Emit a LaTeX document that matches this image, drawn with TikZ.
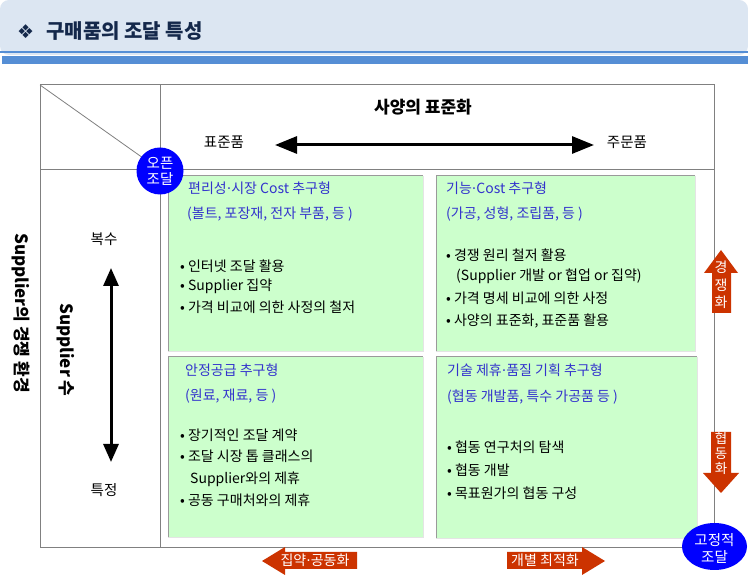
\documentclass[tikz,border=0pt]{standalone}
\usepackage{fontspec}
\setmainfont{Noto Sans CJK KR}
\newfontfamily\dejavu{DejaVu Sans}
\newcommand\kdot{{\dejavu ·}}
\usetikzlibrary{arrows.meta,shapes.geometric}
\definecolor{bannerfill}{HTML}{DCE6F2}
\definecolor{bannerline}{HTML}{558ED5}
\definecolor{titlecol}{HTML}{14284B}
\definecolor{boxgreen}{HTML}{CCFFCC}
\definecolor{boxedge}{HTML}{9A9A9A}
\definecolor{boxlight}{HTML}{E4E4E4}
\definecolor{bluetext}{HTML}{3333CC}
\definecolor{circblue}{HTML}{0000FF}
\definecolor{redarrow}{HTML}{CC3300}
\definecolor{framecol}{HTML}{808080}
\tikzset{
  greenbox/.style={fill=boxgreen, draw=none, anchor=north west, inner sep=0pt},
  darkedge/.style={draw=boxedge, line width=1pt},
  lightedge/.style={draw=boxlight, line width=1pt},
  boxtitle/.style={anchor=west, inner sep=0pt, text=bluetext, font=\fontsize{14}{16}\selectfont},
  bodytext/.style={anchor=west, inner sep=0pt, text=black, font=\fontsize{14}{16}\selectfont},
  labeltext/.style={inner sep=0pt, text=black, font=\fontsize{14.5}{16}\selectfont},
  boldlabel/.style={inner sep=0pt, text=black, font=\bfseries\fontsize{17}{20}\selectfont},
  framelines/.style={draw=framecol, line width=1pt},
  bigarrow/.style={line width=3pt, {Triangle[length=22pt,width=17pt]}-{Triangle[length=22pt,width=17pt]}},
  vertarrow/.style={line width=3pt, {Triangle[length=18pt,width=15pt]}-{Triangle[length=18pt,width=15pt]}},
  redshape/.style={fill=redarrow},
  whitetext/.style={inner sep=0pt, text=white, font=\fontsize{14}{16}\selectfont, align=center},
  bluecirc/.style={fill=circblue, draw=none, text=white, font=\fontsize{14.5}{16}\selectfont, align=center, inner sep=0pt}
}
\begin{document}
\begin{tikzpicture}[x=1pt,y=-1pt]
\useasboundingbox (0,0) rectangle (748,577);
\fill[white] (0,0) rectangle (748,577);
% banner
\fill[bannerfill, rounded corners=9pt] (0,0) rectangle (748,55);
\fill[bannerline] (0,51.5) rectangle (748,53.5);
\fill[bannerline] (2,56) rectangle (748,64.5);
\node[anchor=west, inner sep=0pt, text=titlecol, font=\dejavu\fontsize{19}{22}\selectfont] (diam) at (17,32) {❖};
\node[anchor=west, inner sep=0pt, text=titlecol, font=\bfseries\fontsize{20}{24}\selectfont] (title) at (46,31) {구매품의 조달 특성};
% frame
\coordinate (tl) at (40,85);
\coordinate (br) at (714,548);
\coordinate (cross) at (160,170);
\draw[framelines] (tl) rectangle (br);
\draw[framelines] (160,85) -- (160,548);
\draw[framelines] (40,170) -- (714,170);
\draw[draw=framecol, line width=0.8pt] (tl) -- (cross);
% header
\node[boldlabel] (spec) at (423,107) {사양의 표준화};
\node[labeltext] (std) at (224,142) {표준품};
\node[labeltext] (cust) at (627,142) {주문품};
\coordinate (hl) at (275,145);
\coordinate (hr) at (594,145);
\draw[bigarrow] (hl) -- (hr);
% left column
\node[boldlabel, rotate=-90] (compenv) at (21,313) {Supplier의 경쟁 환경};
\node[boldlabel, rotate=-90] (supnum) at (66,350) {Supplier 수};
\node[labeltext] (multi) at (104,239) {복수};
\node[labeltext] (spec2) at (104,490) {특정};
\coordinate (vt) at (111,268);
\coordinate (vb) at (111,462);
\draw[vertarrow] (vt) -- (vb);
% boxes
\node[greenbox, minimum width=255pt, minimum height=175pt] (b1) at (168,176) {};
\node[greenbox, minimum width=259pt, minimum height=175pt] (b2) at (436,176) {};
\node[greenbox, minimum width=255pt, minimum height=180pt] (b3) at (168,357) {};
\node[greenbox, minimum width=261pt, minimum height=181pt] (b4) at (436,357) {};
\foreach \b in {b1,b2,b3,b4}{
  \draw[lightedge] (\b.north east) -- (\b.south east) -- (\b.south west);
  \draw[darkedge] (\b.south west) -- (\b.north west) -- (\b.north east);
}
% box 1
\node[boxtitle] (t1) at (188,188) {편리성\kdot 시장 Cost 추구형};
\node[boxtitle] (s1) at (187,214) {(볼트, 포장재, 전자 부품, 등 )};
\node[bodytext] (p11) at (180,266) {• 인터넷 조달 활용};
\node[bodytext] (p12) at (180,286) {• Supplier 집약};
\node[bodytext] (p13) at (180,307) {• 가격 비교에 의한 사정의 철저};
% box 2
\node[boxtitle] (t2) at (446,188) {기능\kdot Cost 추구형};
\node[boxtitle] (s2) at (446,214) {(가공, 성형, 조립품, 등 )};
\node[bodytext] (p21) at (446,255) {• 경쟁 원리 철저 활용};
\node[bodytext] (p22) at (456,276) {(Supplier 개발 or 협업 or 집약)};
\node[bodytext] (p23) at (446,298) {• 가격 명세 비교에 의한 사정};
\node[bodytext] (p24) at (446,321) {• 사양의 표준화, 표준품 활용};
% box 3
\node[boxtitle] (t3) at (185,370) {안정공급 추구형};
\node[boxtitle] (s3) at (185,396) {(원료, 재료, 등 )};
\node[bodytext] (p31) at (180,435) {• 장기적인 조달 계약};
\node[bodytext] (p32) at (180,456) {• 조달 시장 톱 클래스의};
\node[bodytext] (p33) at (190,479) {Supplier와의 제휴};
\node[bodytext] (p34) at (180,500) {• 공동 구매처와의 제휴};
% box 4
\node[boxtitle] (t4) at (447,370) {기술 제휴\kdot 품질 기획 추구형};
\node[boxtitle] (s4) at (447,397) {(협동 개발품, 특수 가공품 등 )};
\node[bodytext] (p41) at (447,447) {• 협동 연구처의 탐색};
\node[bodytext] (p42) at (447,470) {• 협동 개발};
\node[bodytext] (p43) at (447,493) {• 목표원가의 협동 구성};
% circles
\node[bluecirc, circle, minimum size=47pt] (open) at (160,171) {오픈\\조달};
\node[bluecirc, ellipse, minimum width=65pt, minimum height=47pt] (fixed) at (714.5,546.5) {};
\node[whitetext, font=\fontsize{14.5}{17}\selectfont] (fixedtext) at (714.5,548) {고정적\\조달};
% red arrows right
\fill[redshape] (712,313) -- (712,273) -- (704,273) -- (721,250) -- (738,273) -- (731,273) -- (731,313) -- cycle;
\node[whitetext, font=\fontsize{14}{17.5}\selectfont] (comp) at (721,285) {경\\쟁\\화};
\fill[redshape] (711,432) -- (731,432) -- (731,473) -- (739,473) -- (721,493) -- (703,473) -- (711,473) -- cycle;
\node[whitetext, font=\fontsize{13.5}{15}\selectfont] (coop) at (721,453) {협\\동\\화};
% red arrows bottom
\fill[redshape] (357,552) -- (285,552) -- (285,547) -- (262,561) -- (285,575) -- (285,569) -- (357,569) -- cycle;
\node[whitetext] (aggr) at (315,560.5) {집약\kdot 공동화};
\fill[redshape] (507,552) -- (582,552) -- (582,547) -- (605,561) -- (582,575) -- (582,569) -- (507,569) -- cycle;
\node[whitetext] (indiv) at (545,560.5) {개별 최적화};
\end{tikzpicture}
\end{document}
